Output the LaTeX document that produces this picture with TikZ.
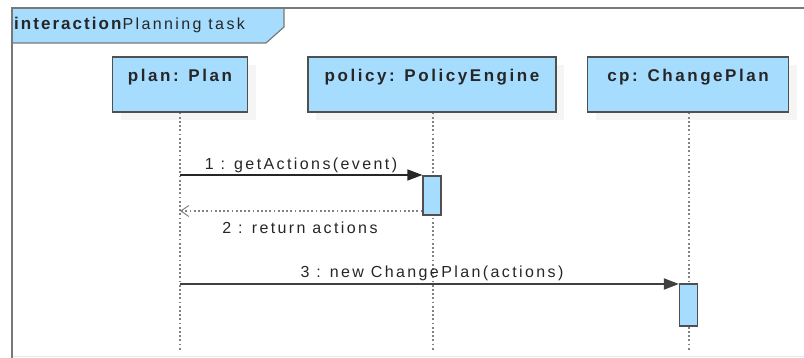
\documentclass[tikz,border=0pt]{standalone}
\usepackage{fontspec}
\setmainfont{Liberation Sans}[LetterSpace=15]
\usetikzlibrary{arrows.meta,shadows}
\definecolor{umlblue}{RGB}{166,221,255}
\definecolor{umlborder}{RGB}{80,80,80}
\definecolor{framegray}{RGB}{120,120,120}
\definecolor{lifegray}{RGB}{130,130,130}
\begin{document}
\begin{tikzpicture}[x=1pt,y=-1pt,
  objbox/.style={draw=umlborder, line width=1.2pt, fill=umlblue, inner sep=0pt,
     drop shadow={shadow xshift=8pt, shadow yshift=-8pt, fill=black!4, opacity=1}},
  objtext/.style={font=\fontsize{17}{20}\selectfont\bfseries, inner sep=0pt, text=black!85},
  actbox/.style={draw=umlborder, line width=1.2pt, fill=umlblue, inner sep=0pt, minimum width=18pt},
  lifeline/.style={lifegray, line width=1.8pt, dash pattern=on 1.8pt off 2.4pt},
  msg/.style={black!85, line width=1.4pt, -{Triangle[length=15pt,width=11pt]}},
  retmsg/.style={lifegray, line width=1.8pt, dash pattern=on 1.8pt off 2.4pt, -{Straight Barb[length=8pt,width=11pt,line width=1pt]}},
  msgtext/.style={font=\fontsize{16}{19}\selectfont, inner sep=0pt, text=black!85}
]
\useasboundingbox (0,0) rectangle (804,358);
% frame
\fill[umlblue] (12,8) -- (284,8) -- (284,27) -- (266,43) -- (12,43) -- cycle;
\draw[framegray, line width=1.2pt] (12,43) -- (266,43) -- (284,27) -- (284,8);
\draw[black!8, line width=1pt] (12,356.5) -- (804,356.5);
\draw[framegray, line width=2pt] (12,358) -- (12,8) -- (804,8);
\node[anchor=west, inner sep=0pt, font=\fontsize{16}{19}\selectfont, text=black!85] (title) at (14,25)
  {{\fontsize{17}{19}\selectfont\bfseries\addfontfeature{LetterSpace=12}interaction}\hspace{1pt}Planning task};
% lifeline heads
\node[objbox, minimum width=135pt, minimum height=55pt] (plan) at (180,84.5) {};
\node[objtext] (planlbl) at (180,77) {plan: Plan};
\node[objbox, minimum width=248pt, minimum height=55pt] (policy) at (432,84.5) {};
\node[objtext] (policylbl) at (432,77) {policy: PolicyEngine};
\node[objbox, minimum width=201pt, minimum height=55pt] (cp) at (688,84.5) {};
\node[objtext] (cplbl) at (688,77) {cp: ChangePlan};
% lifelines
\coordinate (planend) at (180,350);
\coordinate (policyend) at (433,350);
\coordinate (cpend) at (689,350);
\draw[lifeline] (plan.south -| planend) -- (planend);
\draw[lifeline] (policy.south -| policyend) -- (policyend);
\draw[lifeline] (cp.south -| cpend) -- (cpend);
% activations
\node[actbox, minimum height=39pt] (pact) at (432,195.5) {};
\node[actbox, minimum height=42pt] (cact) at (688.5,305) {};
% messages
\coordinate (m1s) at (180,175);
\draw[msg] (m1s) -- (m1s -| pact.west);
\node[msgtext] (m1lbl) at (301,165) {1 : getActions(event)};
\coordinate (m2e) at (180,211);
\draw[retmsg] (m2e -| pact.west) -- (m2e);
\node[msgtext] (m2lbl) at (300,228) {2 : return actions};
\coordinate (m3s) at (180,284);
\draw[msg, line width=1.8pt, black!75] (m3s) -- (m3s -| cact.west);
\node[msgtext] (m3lbl) at (432,273) {3 : new ChangePlan(actions)};
\end{tikzpicture}
\end{document}
